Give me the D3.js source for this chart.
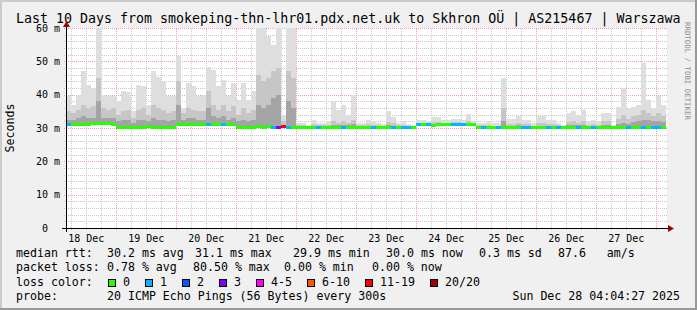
<!DOCTYPE html>
<html>
<head>
<meta charset="utf-8">
<script src="https://cdn.jsdelivr.net/npm/d3@7"></script>
<style>
body { margin: 0; background: #fff; }
svg text { font-family: "DejaVu Sans Mono", monospace; white-space: pre; }
</style>
</head>
<body>
<svg id="chart" width="697" height="310"></svg>
<script>
// ---- data (2 hour bins from 18 Dec 04:00) ----
var firstBin = new Date(2025, 11, 18, 4, 0, 0);
var binHours = 2;
var graphStart = new Date(2025, 11, 18, 4, 4, 27);
var graphEnd = new Date(2025, 11, 28, 4, 4, 27);

var medianRtt = [
    30.9, 30.9, 30.9, 30.9, 30.9, 31.1, 31.1, 31.1, 31.1, 30.9,
    30.1, 30.1, 29.9, 30.1, 30.1, 30.1, 30.2, 30.1, 30.1, 30.1, 30.1, 30.1,
    30.9, 30.8, 30.9, 30.9, 31.0, 30.9, 30.9, 30.8, 30.9, 30.9, 30.9, 30.9,
    30.1, 30.0, 30.1, 30.1, 30.2, 30.1, 30.2, 30.0, 30.1, 30.2, 29.9, 29.9,
    29.9, 29.9, 29.9, 29.9, 29.9, 29.9, 29.9, 29.9, 30.1, 30.1, 30.1, 30.1,
    30.1, 30.0, 30.0, 30.0, 30.0, 30.0, 29.9, 30.0, 29.9, 30.0, 30.0, 29.9,
    30.8, 30.8, 30.8, 30.7, 30.8, 30.8, 30.8, 30.8, 30.8, 30.8, 30.8, 30.8,
    30.0, 30.0, 29.9, 30.0, 30.0, 30.0, 30.1, 30.0, 30.0, 29.9, 30.0, 30.0,
    30.0, 30.1, 30.0, 29.9, 30.0, 30.0, 30.0, 30.0, 29.9, 30.0, 30.0, 30.0,
    30.0, 30.0, 30.1, 30.0, 30.0, 29.9, 30.0, 30.0, 30.0, 30.0, 30.0, 30.0,
    30.0, 30.0
];

var smokeMax = [
    39.5, 37, 40, 47, 43, 42, 60, 40, 39.5, 39.5,
    38, 41, 40.9, 35, 43, 42.5, 37, 47, 45.4, 43.8, 39.5, 39.5,
    51.5, 36, 43.5, 42.5, 39.5, 40, 48.4, 47.5, 42.5, 44.5, 39.7, 43.5,
    38.5, 43.5, 38.5, 41, 60, 60, 57.7, 55, 60, 34, 60, 60,
    31.4, 31.4, 31, 32.4, 31.4, 31.4, 32.2, 38, 35.4, 37, 34, 40,
    31.4, 31.4, 32.5, 32, 31.4, 31.2, 35, 33.3, 31.4, 32, 31.2, 31,
    32.5, 32.5, 32.2, 33.4, 33.4, 32.5, 32.5, 32.8, 32.8, 32.5, 34.2, 32,
    31.6, 31.6, 32, 31.4, 31.4, 45, 32.7, 32.7, 33.6, 32.5, 32.3, 31.4,
    33.7, 33.5, 32.5, 32.5, 31.4, 31, 34.6, 35, 34, 35.5, 32, 32.5,
    32, 34.4, 34.4, 31, 36.4, 42, 36, 36.4, 37, 49.4, 38.5, 36,
    39.6, 37
];

var smokeMid = [
    35, 34.5, 35.5, 37, 36, 36.5, 45, 36, 35.5, 36,
    34, 35, 35.5, 33, 35.5, 36, 34, 37, 36, 35.5, 34.5, 35,
    44, 34.5, 36, 35.5, 35, 35, 41, 37, 35.5, 37, 35, 36.5,
    34, 36, 34.5, 35.5, 46, 44, 45, 47, 48, 32, 47, 45,
    30.8, 30.8, 30.6, 31.2, 30.8, 30.8, 31, 32, 31.5, 32, 31.5, 32.5,
    30.8, 30.8, 31.2, 31, 30.8, 30.7, 31.8, 31.4, 30.8, 31, 30.7, 30.6,
    31.6, 31.6, 31.5, 31.9, 31.9, 31.6, 31.6, 31.7, 31.7, 31.6, 32.2, 31.5,
    30.8, 30.8, 31, 30.7, 30.7, 36, 31.3, 31.3, 31.6, 31.2, 31.1, 30.7,
    31.5, 31.5, 31.2, 31.2, 30.8, 30.6, 31.8, 32, 31.6, 32.2, 31, 31.2,
    31, 32, 32, 30.6, 32.8, 34, 32.8, 33.5, 34, 35.5, 34.5, 33.5,
    34.5, 33.5
];

var smokeLow = [
    32.5, 32.5, 33, 33.5, 33, 33, 38, 33, 33, 33,
    32, 32.5, 32.5, 31.5, 32.5, 32.5, 32, 33, 32.5, 32.5, 32, 32.5,
    37, 32.5, 33, 33, 32.5, 32.5, 36, 33.5, 33, 33.5, 32.5, 33,
    32, 32.5, 32, 32.5, 37, 36, 37, 39, 40, 31, 38, 36,
    30.3, 30.3, 30.2, 30.5, 30.3, 30.3, 30.5, 31, 30.8, 31, 30.8, 31.2,
    30.4, 30.4, 30.6, 30.5, 30.4, 30.4, 30.8, 30.6, 30.4, 30.5, 30.4, 30.3,
    31.2, 31.2, 31.2, 31.3, 31.3, 31.2, 31.2, 31.3, 31.3, 31.2, 31.5, 31.2,
    30.4, 30.4, 30.5, 30.3, 30.3, 32, 30.6, 30.6, 30.8, 30.6, 30.5, 30.3,
    30.7, 30.7, 30.6, 30.6, 30.4, 30.3, 30.9, 31, 30.8, 31, 30.5, 30.6,
    30.5, 31, 31, 30.3, 31.3, 31.5, 31.3, 31.8, 32, 32.5, 32.5, 32,
    32.2, 31.8
];

// lost pings out of 20 per bin
var lossCount = [
    1, 0, 0, 0, 0, 0, 0, 0, 0, 0,
    0, 0, 0, 0, 0, 0, 0, 0, 0, 0, 0, 0,
    0, 0, 0, 0, 0, 0, 1, 0, 0, 1, 0, 0,
    0, 0, 0, 0, 0, 0, 0, 1, 3, 16, 1, 0,
    0, 0, 0, 0, 1, 0, 0, 0, 0, 1, 0, 0,
    0, 0, 0, 1, 0, 0, 0, 1, 0, 1, 1, 0,
    1, 0, 1, 0, 0, 0, 0, 1, 1, 1, 0, 0,
    0, 1, 0, 0, 1, 0, 0, 0, 0, 1, 1, 0,
    0, 0, 1, 0, 1, 0, 0, 0, 1, 0, 0, 1,
    0, 0, 0, 0, 0, 0, 1, 0, 0, 1, 0, 1,
    1, 0
];

var lossLabels = ["0", "1", "2", "3", "4-5", "6-10", "11-19", "20/20"];
var lossUpper = [0, 1, 2, 3, 5, 10, 19, 20];
var lossColors = ["#26ff00", "#00b8ff", "#0059ff", "#7e00ff", "#ff00ff", "#ff5500", "#ff0000", "#a10000"];

var yTickValues = [0, 10, 20, 30, 40, 50, 60];
var yTickLabels = ["0  ", "10 m", "20 m", "30 m", "40 m", "50 m", "60 m"];
var dayLabels = ["18 Dec", "19 Dec", "20 Dec", "21 Dec", "22 Dec", "23 Dec", "24 Dec", "25 Dec", "26 Dec", "27 Dec"];

var titleText = "Last 10 Days from smokeping-thn-lhr01.pdx.net.uk to Skhron OÜ | AS215467 | Warszawa";
var rttLegend = ["median rtt:", "30.2 ms avg", "31.1 ms max", "29.9 ms min", "30.0 ms now", "0.3 ms sd", "87.6   am/s"];
var lossLegend = ["packet loss:", "0.78 % avg", "80.50 % max", "0.00 % min", "0.00 % now"];
var probeText = "20 ICMP Echo Pings (56 Bytes) every 300s";
var dateText = "Sun Dec 28 04:04:27 2025";

// ---- layout ----
var W = 697, H = 310;
var plot = { left: 66, right: 666, top: 28, bottom: 228 };

var svg = d3.select("#chart");

var x = d3.scaleTime().domain([graphStart, graphEnd]).range([plot.left, plot.right]);
var y = d3.scaleLinear().domain([0, 60]).range([plot.bottom, plot.top]);

function binStart(i) { return d3.timeHour.offset(firstBin, i * binHours); }
function binEnd(i) { return d3.timeHour.offset(firstBin, (i + 1) * binHours); }
function lossColor(n) {
    for (var k = 0; k < lossUpper.length; k++) {
        if (n <= lossUpper[k]) return lossColors[k];
    }
    return lossColors[lossColors.length - 1];
}

// background with 3d shade
svg.append("rect").attr("width", W).attr("height", H).attr("fill", "#f0f0f0");
svg.append("rect").attr("x", 0).attr("y", 0).attr("width", W).attr("height", 2).attr("fill", "#cbcbcb");
svg.append("rect").attr("x", 0).attr("y", 0).attr("width", 2).attr("height", H).attr("fill", "#cbcbcb");
svg.append("rect").attr("x", 0).attr("y", H - 2).attr("width", W).attr("height", 2).attr("fill", "#999");
svg.append("rect").attr("x", W - 2).attr("y", 0).attr("width", 2).attr("height", H).attr("fill", "#999");

// title
svg.append("text")
    .attr("x", 16).attr("y", 23)
    .attr("font-size", "13.3px")
    .attr("fill", "#000")
    .text(titleText);

// plot area
svg.append("rect")
    .attr("x", plot.left).attr("y", plot.top)
    .attr("width", plot.right - plot.left + 1).attr("height", plot.bottom - plot.top)
    .attr("fill", "#fff");

svg.append("clipPath").attr("id", "plotclip")
    .append("rect")
    .attr("x", plot.left + 1).attr("y", plot.top)
    .attr("width", plot.right - plot.left).attr("height", plot.bottom - plot.top);

// grid
var grid = svg.append("g").attr("shape-rendering", "crispEdges");
var minorY = d3.range(2, 60, 2).filter(function(v) { return v % 10 !== 0; });
grid.selectAll(".hminor").data(minorY).enter().append("line")
    .attr("x1", plot.left - 2).attr("x2", plot.right + 2)
    .attr("y1", function(d) { return Math.round(y(d)) + 0.5; })
    .attr("y2", function(d) { return Math.round(y(d)) + 0.5; })
    .attr("stroke", "#c8c8c8").attr("stroke-dasharray", "1,1");

var minorX = d3.timeHour.every(6).range(graphStart, graphEnd).filter(function(d) { return d.getHours() !== 0; });
grid.selectAll(".vminor").data(minorX).enter().append("line")
    .attr("x1", function(d) { return Math.round(x(d)) + 0.5; })
    .attr("x2", function(d) { return Math.round(x(d)) + 0.5; })
    .attr("y1", plot.bottom + 2).attr("y2", plot.top)
    .attr("stroke", "#c8c8c8").attr("stroke-dasharray", "1,1");

grid.selectAll(".hmajor").data(yTickValues.slice(1)).enter().append("line")
    .attr("x1", plot.left - 2).attr("x2", plot.right + 2)
    .attr("y1", function(d) { return Math.round(y(d)) + 0.5; })
    .attr("y2", function(d) { return Math.round(y(d)) + 0.5; })
    .attr("stroke", "#e8a0a0").attr("stroke-dasharray", "1,1");

var majorX = d3.timeDay.range(graphStart, graphEnd);
grid.selectAll(".vmajor").data(majorX).enter().append("line")
    .attr("x1", function(d) { return Math.round(x(d)) + 0.5; })
    .attr("x2", function(d) { return Math.round(x(d)) + 0.5; })
    .attr("y1", plot.bottom + 2).attr("y2", plot.top)
    .attr("stroke", "#e8a0a0").attr("stroke-dasharray", "1,1");

// smoke + median
var bins = d3.range(medianRtt.length);
var data = svg.append("g").attr("clip-path", "url(#plotclip)").attr("shape-rendering", "crispEdges");

function smokeLayer(values, color) {
    data.append("g").selectAll("rect").data(bins).enter().append("rect")
        .attr("x", function(i) { return Math.round(x(binStart(i))); })
        .attr("width", function(i) { return Math.round(x(binEnd(i))) - Math.round(x(binStart(i))); })
        .attr("y", function(i) { return Math.round(y(values[i])); })
        .attr("height", function(i) { return Math.max(0, Math.round(y(medianRtt[i])) - Math.round(y(values[i]))); })
        .attr("fill", color);
}
smokeLayer(smokeMax, "#dedede");
smokeLayer(smokeMid, "#c6c6c6");
smokeLayer(smokeLow, "#a4a4a4");

data.append("g").selectAll("rect").data(bins).enter().append("rect")
    .attr("x", function(i) { return Math.round(x(binStart(i))); })
    .attr("width", function(i) { return Math.round(x(binEnd(i))) - Math.round(x(binStart(i))); })
    .attr("y", function(i) { return Math.round(y(medianRtt[i])) - 2; })
    .attr("height", 3)
    .attr("fill", function(i) { return lossColor(lossCount[i]); });

// axes lines + arrows
var axes = svg.append("g").attr("shape-rendering", "crispEdges");
axes.append("line")
    .attr("x1", plot.left - 4).attr("x2", plot.right + 3)
    .attr("y1", plot.bottom + 0.5).attr("y2", plot.bottom + 0.5)
    .attr("stroke", "#000");
axes.append("line")
    .attr("x1", plot.left + 0.5).attr("x2", plot.left + 0.5)
    .attr("y1", plot.bottom + 4).attr("y2", plot.top - 2)
    .attr("stroke", "#000");
svg.append("path")
    .attr("d", "M" + (plot.right + 2) + "," + (plot.bottom - 3) + "L" + (plot.right + 8) + "," + (plot.bottom + 0.5) + "L" + (plot.right + 2) + "," + (plot.bottom + 4) + "Z")
    .attr("fill", "#a00000");
svg.append("path")
    .attr("d", "M" + (plot.left - 3) + "," + (plot.top - 1) + "L" + (plot.left + 0.5) + "," + (plot.top - 7) + "L" + (plot.left + 4) + "," + (plot.top - 1) + "Z")
    .attr("fill", "#a00000");

// y axis labels
var yAxis = d3.axisLeft(y).tickValues(yTickValues)
    .tickFormat(function(d, i) { return yTickLabels[i]; })
    .tickSize(0).tickPadding(6);
var gy = svg.append("g").attr("transform", "translate(" + plot.left + ",0)").call(yAxis);
gy.select(".domain").remove();
gy.selectAll("text").attr("font-family", "DejaVu Sans Mono").attr("font-size", "10px").attr("fill", "#000");

// x axis labels, centred on noon of each day
var noonTicks = dayLabels.map(function(d, i) { return d3.timeHour.offset(new Date(2025, 11, 18 + i), 12); });
var xAxis = d3.axisBottom(x).tickValues(noonTicks)
    .tickFormat(function(d, i) { return dayLabels[i]; })
    .tickSize(0).tickPadding(7);
var gx = svg.append("g").attr("transform", "translate(0," + plot.bottom + ")").call(xAxis);
gx.select(".domain").remove();
gx.selectAll("text").attr("font-family", "DejaVu Sans Mono").attr("font-size", "10px").attr("fill", "#000");

// y title
svg.append("text")
    .attr("transform", "translate(14,128) rotate(-90)")
    .attr("text-anchor", "middle")
    .attr("font-size", "11.6px")
    .text("Seconds");

// watermark
svg.append("text")
    .attr("transform", "translate(685,22) rotate(90)")
    .attr("font-size", "7.4px")
    .attr("fill", "#8c8c8c")
    .text("RRDTOOL / TOBI OETIKER");

// legend
var legend = svg.append("g").attr("font-size", "11.6px").attr("fill", "#000");
var rttX = [16, 107, 195, 293, 386, 479, 558];
legend.selectAll(".rtt").data(rttLegend).enter().append("text")
    .attr("x", function(d, i) { return rttX[i]; }).attr("y", 257)
    .text(function(d) { return d; });
var lossX = [16, 107, 193, 284, 372];
legend.selectAll(".loss").data(lossLegend).enter().append("text")
    .attr("x", function(d, i) { return lossX[i]; }).attr("y", 271)
    .text(function(d) { return d; });

legend.append("text").attr("x", 16).attr("y", 286).text("loss color:");
var lx = 108;
lossLabels.forEach(function(lbl, k) {
    legend.append("rect")
        .attr("x", lx + 0.5).attr("y", 279.5).attr("width", 7).attr("height", 7)
        .attr("fill", lossColors[k]).attr("stroke", "#000").attr("shape-rendering", "crispEdges");
    legend.append("text").attr("x", lx + 15).attr("y", 286).text(lbl);
    lx += 15 + lbl.length * 7 + 15;
});

legend.append("text").attr("x", 16).attr("y", 300).text("probe:");
legend.append("text").attr("x", 107).attr("y", 300).text(probeText);
legend.append("text").attr("x", 680).attr("y", 300).attr("text-anchor", "end").text(dateText);
</script>
</body>
</html>
